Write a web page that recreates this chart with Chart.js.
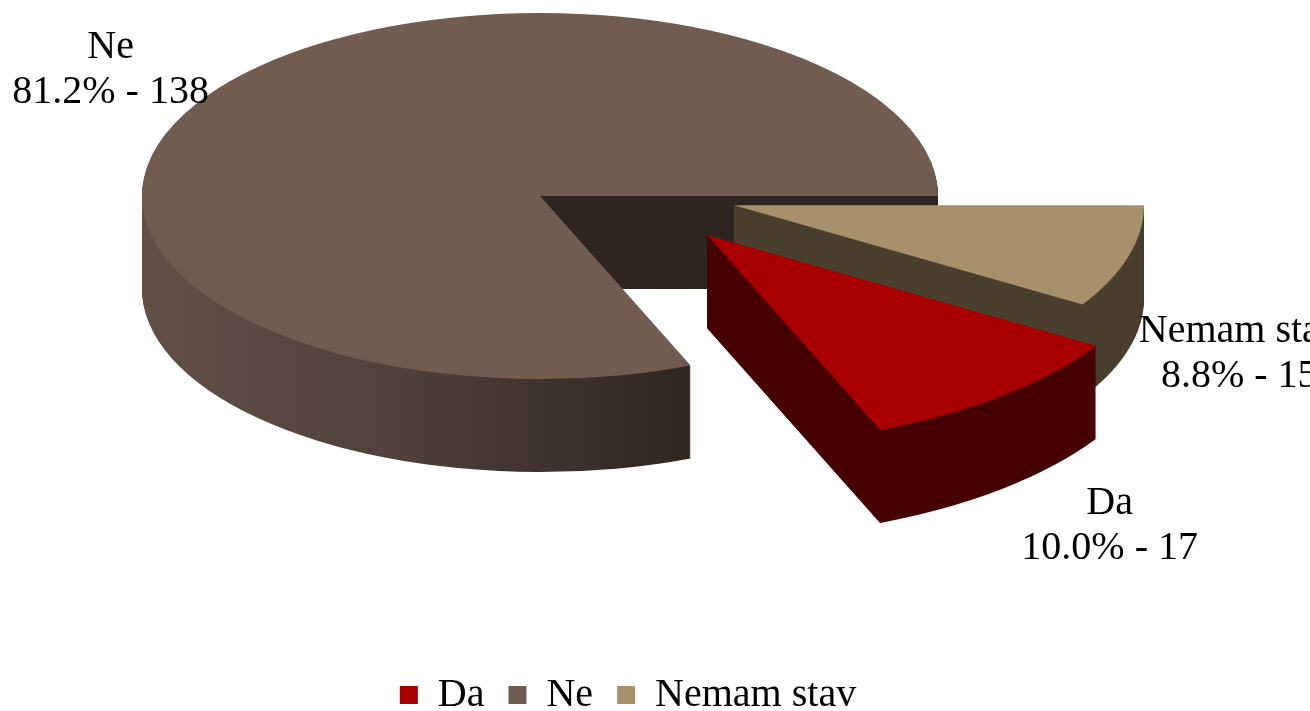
<!DOCTYPE html>
<html>
<head>
<meta charset="utf-8">
<script src="https://cdn.jsdelivr.net/npm/chart.js@4.4.1/dist/chart.umd.min.js"></script>
<style>
    html, body { margin: 0; padding: 0; background: #fff; }
    #caixa { width: 1310px; height: 711px; }
</style>
</head>
<body>
<div id="caixa"><canvas id="pizza"></canvas></div>
<script>
const categorias = ['Da', 'Ne', 'Nemam stav']
const quantidades = [17, 138, 15]

const total = quantidades.reduce((a, b) => a + b, 0)

                              // CORES
const coresTopo = ['#a80000', '#705c51', '#a7906c']
const coresCorte = ['#470000', '#2e2520', '#4a3e2e']

                              // "3D" FEITO NA MÃO
const centroX = 540
const centroY = 196
const achatar = 183 / 398          // elipse do topo
const profundidade = 93
const deslocamento = [[167, 85], [0, 0], [194, 20]]   // fatias puxadas pra fora
const escala = [1.15, 1, 1.03]                      // fatias da frente parecem maiores
const ordemDesenho = [1, 2, 0]                      // de trás pra frente
const ajusteRotulo = [[107, 130], [-99, -24], [111, 97]]

function aplica(ctx, p, i, d) {
    ctx.translate(centroX, centroY + d)
    ctx.scale(1, achatar)
    ctx.translate(deslocamento[i][0], deslocamento[i][1])
    ctx.scale(escala[i], escala[i])
    ctx.translate(-p.x, -p.y)
}

function tela(p, i, px, py, d) {
    return [
        centroX + deslocamento[i][0] + escala[i] * (px - p.x),
        centroY + d + achatar * (deslocamento[i][1] + escala[i] * (py - p.y))
    ]
}

function corLado(ctx, p, i) {
    if (i != 1) return coresCorte[i]
    const g = ctx.createLinearGradient(p.x - p.outerRadius, 0, p.x + p.outerRadius, 0)
    g.addColorStop(0, '#625048')
    g.addColorStop(0.32, '#4f403a')
    g.addColorStop(0.7, '#2e2520')
    g.addColorStop(1, '#2e2520')
    return g
}

const pizza3d = {
    id: 'pizza3d',
    beforeDatasetsDraw(chart) {
        const ctx = chart.ctx
        const meta = chart.getDatasetMeta(0)

        for (const i of ordemDesenho) {
            const arco = meta.data[i]
            const p = arco.getProps(['x', 'y', 'startAngle', 'endAngle', 'outerRadius'], true)

            // laterais, camada por camada de baixo pra cima
            for (let d = profundidade; d >= 1; d--) {
                ctx.save()
                aplica(ctx, p, i, d)
                ctx.fillStyle = corLado(ctx, p, i)
                ctx.beginPath()
                ctx.moveTo(p.x, p.y)
                ctx.arc(p.x, p.y, p.outerRadius, p.startAngle, p.endAngle)
                ctx.closePath()
                ctx.fill()
                ctx.restore()
            }

            // face do corte que fica virada pra frente
            const angulos = []
            if (Math.cos(p.endAngle) > 0) angulos.push(p.endAngle)
            if (Math.cos(p.startAngle) < 0) angulos.push(p.startAngle)
            for (const a of angulos) {
                const A = tela(p, i, p.x, p.y, 0)
                const B = tela(p, i, p.x + p.outerRadius * Math.cos(a), p.y + p.outerRadius * Math.sin(a), 0)
                ctx.save()
                ctx.fillStyle = coresCorte[i]
                ctx.beginPath()
                ctx.moveTo(A[0], A[1])
                ctx.lineTo(B[0], B[1])
                ctx.lineTo(B[0], B[1] + profundidade)
                ctx.lineTo(A[0], A[1] + profundidade)
                ctx.closePath()
                ctx.fill()
                ctx.restore()
            }

            // topo desenhado pelo próprio Chart.js
            ctx.save()
            aplica(ctx, p, i, 0)
            arco.draw(ctx)
            ctx.restore()
        }
        return false
    },
    afterDraw(chart) {
        const ctx = chart.ctx
        const meta = chart.getDatasetMeta(0)
        ctx.save()
        ctx.font = '40px "Liberation Serif"'
        ctx.fillStyle = '#000'
        ctx.textAlign = 'center'
        ctx.textBaseline = 'middle'
        for (let i = 0; i < meta.data.length; i++) {
            const p = meta.data[i].getProps(['x', 'y', 'startAngle', 'endAngle', 'outerRadius'], true)
            const meio = (p.startAngle + p.endAngle) / 2
            const ponto = tela(p, i, p.x + p.outerRadius * Math.cos(meio), p.y + p.outerRadius * Math.sin(meio), 0)
            const x = ponto[0] + ajusteRotulo[i][0]
            const y = ponto[1] + ajusteRotulo[i][1]
            const pct = (quantidades[i] / total * 100).toFixed(1)
            ctx.fillText(categorias[i], x, y - 22)
            ctx.fillText(pct + '% - ' + quantidades[i], x, y + 23)
        }
        ctx.restore()
    }
}

const dadosPizza = {
    labels: categorias,
    datasets: [{
        data: quantidades,
        backgroundColor: coresTopo,
        borderColor: coresTopo,
        borderWidth: 0,
        clip: false
    }]
}

const configPizza = {
    type: 'pie',
    data: dadosPizza,
    plugins: [pizza3d],
    options: {
        responsive: true,
        maintainAspectRatio: false,
        animation: false,
        events: [],
        radius: 398,
        rotation: 450 - 360 * (quantidades[0] + quantidades[1]) / total,
        layout: {
            padding: { right: 54, bottom: -14 }
        },
        plugins: {
            tooltip: { enabled: false },
            legend: {
                position: 'bottom',
                labels: {
                    color: '#000',
                    boxWidth: 18,
                    boxHeight: 18,
                    padding: 24,
                    font: { family: 'Liberation Serif', size: 40 }
                }
            }
        }
    }
}

new Chart(document.getElementById('pizza'), configPizza)
</script>
</body>
</html>
